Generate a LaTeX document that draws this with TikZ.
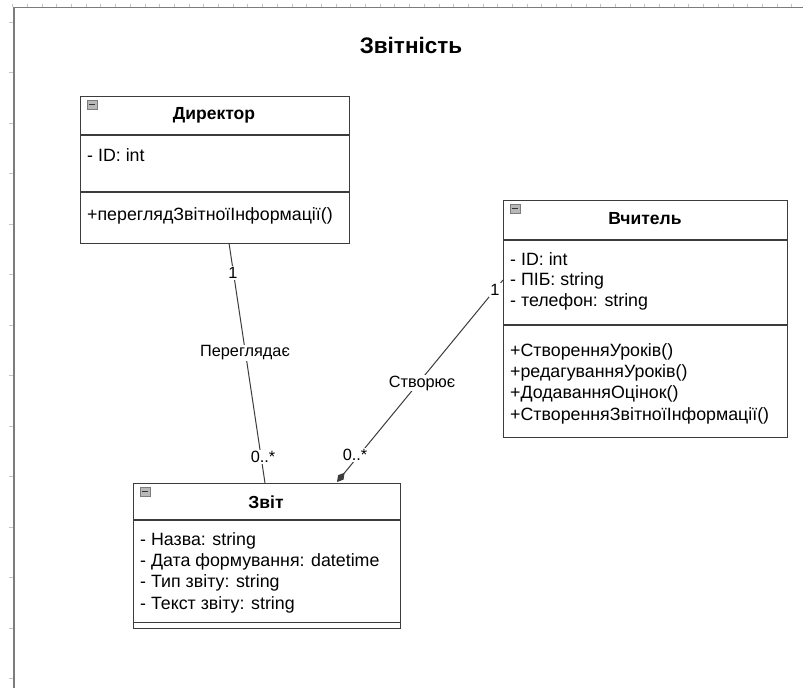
\documentclass[tikz,border=0pt]{standalone}
\usepackage{fontspec}
\setmainfont{Liberation Sans}
\usetikzlibrary{arrows.meta}
\definecolor{framegray}{HTML}{7C7C7C}
\definecolor{tickgray}{HTML}{C4C4C4}
\definecolor{edge}{HTML}{3C3C3C}
\definecolor{iconfill}{HTML}{B8B8B8}
\begin{document}
\begin{tikzpicture}[x=1pt,y=-1pt,
  classbox/.style={draw=edge, line width=1.2pt, fill=white, inner sep=0pt, anchor=north west},
  divider/.style={draw=edge, line width=1.2pt},
  classtitle/.style={inner sep=0pt, font=\fontsize{17.5}{19}\selectfont\bfseries},
  member/.style={anchor=west, inner sep=0pt, font=\fontsize{17.8}{19}\selectfont},
  assoc/.style={draw=edge, line width=1pt},
  mult/.style={fill=white, inner sep=1pt, font=\fontsize{16.3}{18}\selectfont},
  collapse/.style={draw=framegray, fill=iconfill, line width=0.5pt, minimum width=9.5pt, minimum height=9pt, inner sep=0pt, anchor=north west,
    path picture={\draw[black!80, line width=1.1pt] ([xshift=2pt]path picture bounding box.west) -- ([xshift=-2pt]path picture bounding box.east);}},
]
\useasboundingbox (0,0) rectangle (803,688);
\fill[white] (0,0) rectangle (803,688);

% page frame with ruler ticks
\foreach \x in {12.5,27.2,...,803} \draw[tickgray, line width=0.6pt] (\x,3.5) -- (\x,6.5);
\foreach \y in {22,72.5,...,688} \draw[tickgray, line width=0.6pt] (9,\y) -- (13,\y);
\draw[framegray, line width=1.8pt] (14,688) -- (14,7.5) -- (803,7.5);

% diagram title
\node[font=\fontsize{22.5}{25}\selectfont\bfseries] (heading) at (411,45) {Звітність};

% class: Директор
\node[classbox, minimum width=269pt, minimum height=147pt] (dir) at (80,96) {};
\draw[divider] (dir.west |- 0,135) -- (dir.east |- 0,135);
\draw[divider] (dir.west |- 0,192) -- (dir.east |- 0,192);
\node[collapse] (dirIcon) at (87,100) {};
\node[classtitle] (dirTitle) at (214,115) {Директор};
\node[member] (dirA1) at (87,155) {- ID: int};
\node[member] (dirM1) at (87,216) {+переглядЗвітноїІнформації()};

% class: Вчитель
\node[classbox, minimum width=284pt, minimum height=237pt] (tch) at (503,200) {};
\draw[divider] (tch.west |- 0,240) -- (tch.east |- 0,240);
\draw[divider] (tch.west |- 0,325) -- (tch.east |- 0,325);
\node[collapse] (tchIcon) at (510,204) {};
\node[classtitle] (tchTitle) at (645,219) {Вчитель};
\node[member] (tchA1) at (510,259) {- ID: int};
\node[member] (tchA2) at (510,281) {- ПІБ: string};
\node[member] (tchA3) at (510,302) {- телефон: string};
\node[member] (tchM1) at (510,352) {+СтворенняУроків()};
\node[member] (tchM2) at (510,373) {+редагуванняУроків()};
\node[member] (tchM3) at (510,394) {+ДодаванняОцінок()};
\node[member] (tchM4) at (510,416) {+СтворенняЗвітноїІнформації()};

% class: Звіт
\node[classbox, minimum width=267pt, minimum height=145pt] (rep) at (133,483) {};
\draw[divider] (rep.west |- 0,520) -- (rep.east |- 0,520);
\draw[divider] (rep.west |- 0,622.5) -- (rep.east |- 0,622.5);
\node[collapse] (repIcon) at (140,487) {};
\node[classtitle] (repTitle) at (266,502) {Звіт};
\node[member] (repA1) at (140,541) {- Назва: string};
\node[member] (repA2) at (140,562) {- Дата формування: datetime};
\node[member] (repA3) at (140,583) {- Тип звіту: string};
\node[member] (repA4) at (140,605) {- Текст звіту: string};

% association: Директор -- Звіт
\coordinate (dirEnd) at (229,243);
\coordinate (repEndA) at (265,483);
\draw[assoc] (dirEnd) -- (repEndA);
\node[mult] (multDir) at (233,273) {1};
\node[mult] (lblView) at (245,353) {Переглядає};
\node[mult] (multRepA) at (263,457) {0..*};

% association: Вчитель -- Звіт (diamond at the report end)
\coordinate (tchEnd) at (503,280);
\coordinate (repEndB) at (337,482);
\draw[assoc, -{Diamond[length=12pt,width=7pt]}] (tchEnd) -- (repEndB);
\node[mult] (multTch) at (495,290) {1};
\node[mult] (lblCreate) at (422,383) {Створює};
\node[mult] (multRepB) at (355,455) {0..*};
\end{tikzpicture}
\end{document}
